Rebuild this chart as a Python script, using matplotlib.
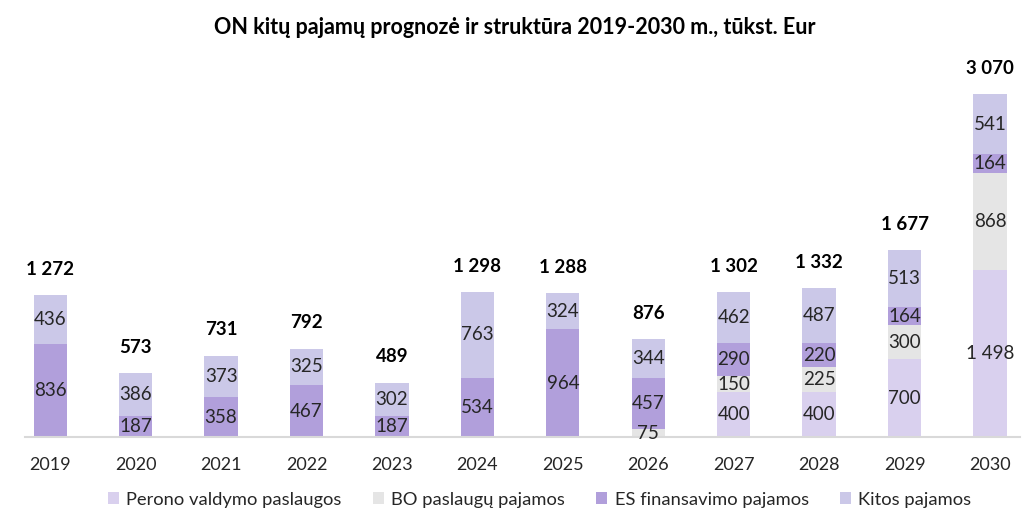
import matplotlib.pyplot as plt
import numpy as np

plt.rcParams['font.family'] = ['Lato', 'DejaVu Sans']

years = ["2019", "2020", "2021", "2022", "2023", "2024",
         "2025", "2026", "2027", "2028", "2029", "2030"]
perono = [0, 0, 0, 0, 0, 0, 0, 0, 400, 400, 700, 1498]
bo = [0, 0, 0, 0, 0, 0, 0, 75, 150, 225, 300, 868]
es = [836, 187, 358, 467, 187, 534, 964, 457, 290, 220, 164, 164]
kitos = [436, 386, 373, 325, 302, 763, 324, 344, 462, 487, 513, 541]
totals = [1272, 573, 731, 792, 489, 1298, 1288, 876, 1302, 1332, 1677, 3070]

series = [
    ("Perono valdymo paslaugos", perono, "#D9D0EE"),
    ("BO paslaugų pajamos", bo, "#E5E5E5"),
    ("ES finansavimo pajamos", es, "#B19FDB"),
    ("Kitos pajamos", kitos, "#CBC8E8"),
]


def fmt(v):
    return f"{v:,}".replace(",", " ")


fig = plt.figure(figsize=(10.24, 5.18), dpi=100)
ax = fig.add_axes([0.024, 0.156, 0.972, 0.73])

x = np.arange(len(years))
bottom = np.zeros(len(years))
for name, vals, color in series:
    vals = np.array(vals)
    ax.bar(x, vals, 0.39, bottom=bottom, color=color, label=name)
    for i, v in enumerate(vals):
        if v > 0:
            ax.text(x[i], bottom[i] + v / 2, fmt(v), ha="center", va="center",
                    fontsize=13.5, color="#262626")
    bottom += vals

for i, t in enumerate(totals):
    ax.text(x[i], bottom[i] + 230, fmt(t), ha="center", va="center",
            fontsize=13.5, fontweight="bold", color="black")

ax.set_xlim(-0.3, 11.35)
ax.set_ylim(0, 3384)
ax.set_xticks(x)
ax.set_xticklabels(years, fontsize=13, color="#262626")
ax.tick_params(axis="x", length=0, pad=14)
ax.set_yticks([])
for s in ["top", "right", "left"]:
    ax.spines[s].set_visible(False)
ax.spines["bottom"].set_color("#D9D9D9")
ax.spines["bottom"].set_linewidth(1.5)

fig.suptitle("ON kitų pajamų prognozė ir struktūra 2019-2030 m., tūkst. Eur",
             x=0.503, y=0.968, fontsize=15.5, fontweight="bold", color="black")

fig.legend(loc="lower center", bbox_to_anchor=(0.527, -0.012), ncol=4,
           frameon=False, fontsize=13.2, handlelength=0.6, handleheight=0.6,
           handletextpad=0.4, columnspacing=1.7, labelcolor="#262626")

plt.savefig("out.png", dpi=100)
